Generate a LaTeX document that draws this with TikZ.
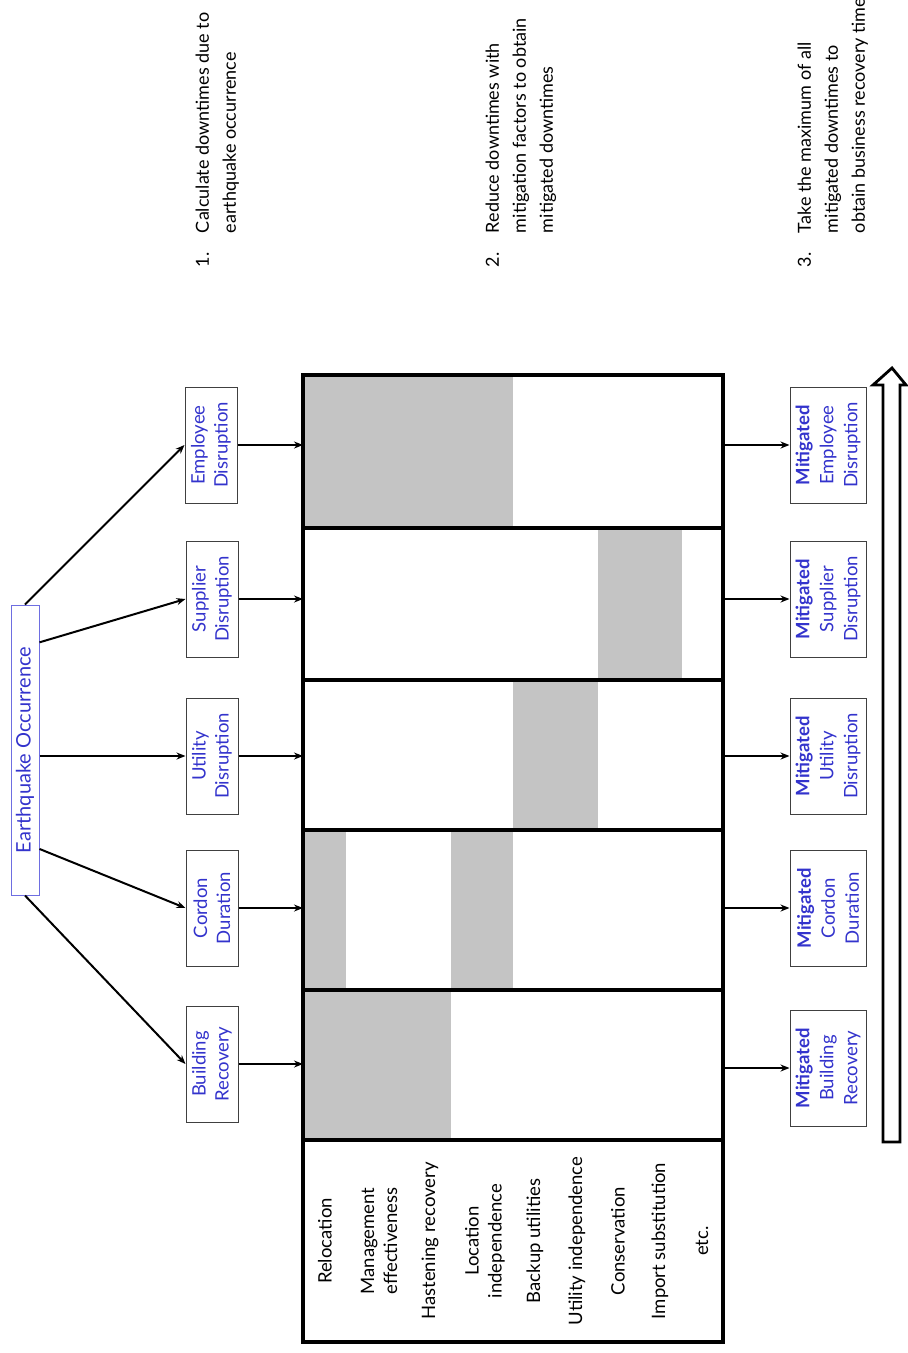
\documentclass[tikz,border=0pt]{standalone}
\usepackage{fontspec}
\setmainfont{Lato}
\usepackage{xcolor}
\usetikzlibrary{calc}
\usetikzlibrary{positioning}
\usetikzlibrary{arrows.meta}
\definecolor{labelblue}{RGB}{51,51,204}
\definecolor{eqborder}{RGB}{110,110,225}
\definecolor{cellgray}{RGB}{196,196,196}

\begin{document}
\begin{tikzpicture}[x=1pt, y=-1pt, ->, >={Stealth[length=9pt, width=7pt]}, line width=2pt, font=\fontsize{18.5}{23}\selectfont]
	\tikzstyle{src}=[draw=black!75, line width=1pt, rotate=90, minimum width=116pt, minimum height=52pt, inner sep=0pt, align=center, text=labelblue]
	\tikzstyle{mit}=[src, minimum height=76pt, font=\fontsize{18.5}{24}\selectfont]
	\tikzstyle{factor}=[rotate=90, align=center, inner sep=0pt]
	\tikzstyle{note}=[rotate=90, anchor=north west, inner sep=0pt, font=\fontsize{18}{27}\selectfont]
	\tikzstyle{grid}=[-, draw=black, line width=3.2pt]

	\useasboundingbox (0,0) rectangle (908,1353);

	\node[draw=eqborder, line width=1pt, rotate=90, minimum width=290pt, minimum height=28pt, inner sep=0pt, text=labelblue, font=\fontsize{20}{22}\selectfont] (eq) at (25,750) {Earthquake Occurrence};

	\node[src] (emp) at (211,445) {Employee\\Disruption};
	\node[src] (sup) at (212,599) {Supplier\\Disruption};
	\node[src] (uti) at (212,756) {Utility\\Disruption};
	\node[src] (cor) at (212,908) {Cordon\\Duration};
	\node[src] (bld) at (212,1064) {Building\\Recovery};

	\path (eq.east) edge (emp.north);
	\path ($(eq.south east)!0.13!(eq.south west)$) edge (sup.north);
	\path (eq.south east |- uti.north) edge (uti.north);
	\path ($(eq.south east)!0.84!(eq.south west)$) edge (cor.north);
	\path (eq.west) edge (bld.north);

	\coordinate (tbl-nw) at (303,375);
	\coordinate (tbl-se) at (723,1342);
	\foreach \xa/\ya/\xb/\yb in {303/375/513/528, 598/528/682/680, 513/680/598/830, 303/830/346/990, 451/830/513/990, 303/990/451/1140}
		\fill[cellgray] (\xa,\ya) rectangle (\xb,\yb);
	\draw[grid] (tbl-nw) rectangle (tbl-se);
	\foreach \y in {528,680,830,990,1140}
		\draw[grid] (303,\y) -- (723,\y);

	\foreach \x/\txt [count=\i] in {325/Relocation, 379/{Management\\effectiveness}, 430/Hastening recovery, 485/{Location\\independence}, 535/Backup utilities, 577/Utility independence, 618/Conservation, 660/Import substitution, 702/etc.}
		\node[factor] (fac\i) at (\x,1241) {\txt};

	\path (emp.south) edge (emp.south -| tbl-nw);
	\path (sup.south) edge (sup.south -| tbl-nw);
	\path (uti.south) edge (uti.south -| tbl-nw);
	\path (cor.south) edge (cor.south -| tbl-nw);
	\path (bld.south) edge (bld.south -| tbl-nw);

	\node[mit] (memp) at (828,445) {\textbf{Mitigated}\\Employee\\Disruption};
	\node[mit] (msup) at (828,599) {\textbf{Mitigated}\\Supplier\\Disruption};
	\node[mit] (muti) at (828,756) {\textbf{Mitigated}\\Utility\\Disruption};
	\node[mit] (mcor) at (828,908) {\textbf{Mitigated}\\Cordon\\Duration};
	\node[mit] (mbld) at (828,1068) {\textbf{Mitigated}\\Building\\Recovery};

	\path (memp.north -| tbl-se) edge (memp.north);
	\path (msup.north -| tbl-se) edge (msup.north);
	\path (muti.north -| tbl-se) edge (muti.north);
	\path (mcor.north -| tbl-se) edge (mcor.north);
	\path (mbld.north -| tbl-se) edge (mbld.north);

	% hollow arrow
	\draw[-, line width=2.8pt, fill=white] (883,1142) -- (883,385) -- (873,385) -- (892,368) -- (906,385) -- (900,385) -- (900,1142) -- cycle;

	\node[note] (note1) at (189,268) {\begin{tabular}{@{}p{34pt}@{}l@{}}1. & Calculate downtimes due to\\ & earthquake occurrence\end{tabular}};
	\node[note] (note2) at (479,268) {\begin{tabular}{@{}p{34pt}@{}l@{}}2. & Reduce downtimes with\\ & mitigation factors to obtain\\ & mitigated downtimes\end{tabular}};
	\node[note] (note3) at (791,268) {\begin{tabular}{@{}p{34pt}@{}l@{}}3. & Take the maximum of all\\ & mitigated downtimes to\\ & obtain business recovery time\end{tabular}};
\end{tikzpicture}
\end{document}
